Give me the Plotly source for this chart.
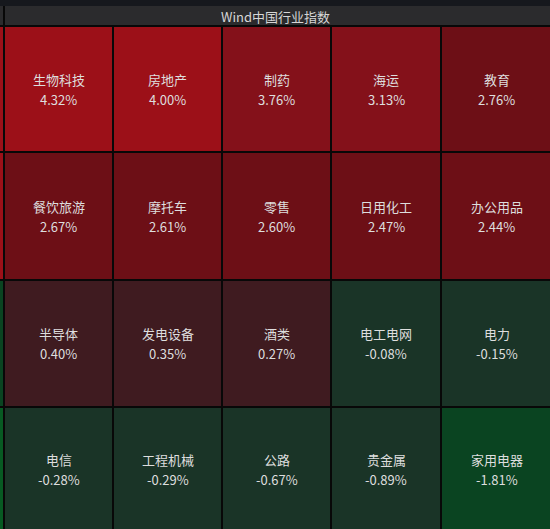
import plotly.graph_objects as go

# treemap tiles (4 rows x 5 cols), plus the sliver of the neighbouring group on the left
names = [
    ["生物科技", "房地产", "制药", "海运", "教育"],
    ["餐饮旅游", "摩托车", "零售", "日用化工", "办公用品"],
    ["半导体", "发电设备", "酒类", "电工电网", "电力"],
    ["电信", "工程机械", "公路", "贵金属", "家用电器"],
]
changes = [
    [4.32, 4.00, 3.76, 3.13, 2.76],
    [2.67, 2.61, 2.60, 2.47, 2.44],
    [0.40, 0.35, 0.27, -0.08, -0.15],
    [-0.28, -0.29, -0.67, -0.89, -1.81],
]
left_slice = [4.5, 4.2, -1.5, -2.5]
title = "Wind中国行业指数"

# bucket colours (Wind style)
bounds = [-5, -2, -1, 0, 1, 2, 3, 4, 5]
bucket_colors = ["#075a22", "#0a4421", "#1a3427", "#3f1b20", "#551419",
                 "#6d0f16", "#84111a", "#9c1018"]

zmin, zmax = bounds[0], bounds[-1]
cscale = []
for i, c in enumerate(bucket_colors):
    a = (bounds[i] - zmin) / (zmax - zmin)
    b = (bounds[i + 1] - zmin) / (zmax - zmin)
    cscale.append([a, c])
    cscale.append([b, c])

col_edges = [-3, 4, 113, 222, 331, 441, 552]
row_edges = [26, 152, 280, 407, 531]

z = [[left_slice[r]] + changes[r] for r in range(4)]

fig = go.Figure()
fig.add_trace(go.Heatmap(
    z=z, x=col_edges, y=row_edges,
    colorscale=cscale, zmin=zmin, zmax=zmax,
    xgap=2, ygap=2, showscale=False, hoverinfo="skip",
))

font = "Noto Sans CJK SC, Microsoft YaHei, sans-serif"
for r in range(4):
    cy = (row_edges[r] + row_edges[r + 1]) / 2
    for c in range(5):
        cx = (col_edges[c + 1] + col_edges[c + 2]) / 2
        fig.add_annotation(x=cx, y=cy - 10, text=names[r][c], showarrow=False,
                           font=dict(size=13, color="#dedede", family=font))
        fig.add_annotation(x=cx, y=cy + 10, text=f"{changes[r][c]:.2f}%", showarrow=False,
                           font=dict(size=13, color="#dedede", family=font))

# header chrome
fig.add_shape(type="rect", x0=-5, x1=560, y0=-5, y1=6, fillcolor="#16181d", line_width=0)
fig.add_shape(type="rect", x0=-5, x1=3, y0=6, y1=25, fillcolor="#2b2b2d", line_width=0)
fig.add_shape(type="rect", x0=5, x1=560, y0=6, y1=25, fillcolor="#2b2b2d", line_width=0)
fig.add_annotation(x=275, y=16, text=title, showarrow=False,
                   font=dict(size=13, color="#d6d6d6", family=font))

fig.update_layout(
    width=550, height=529,
    margin=dict(l=0, r=0, t=0, b=0),
    paper_bgcolor="#080808", plot_bgcolor="#080808",
    xaxis=dict(range=[0, 550], visible=False, fixedrange=True),
    yaxis=dict(range=[529, 0], visible=False, fixedrange=True),
    showlegend=False,
)

fig.write_html("out.html", config={"displayModeBar": False},
               post_script="document.body.style.margin='0';document.body.style.overflow='hidden';")
